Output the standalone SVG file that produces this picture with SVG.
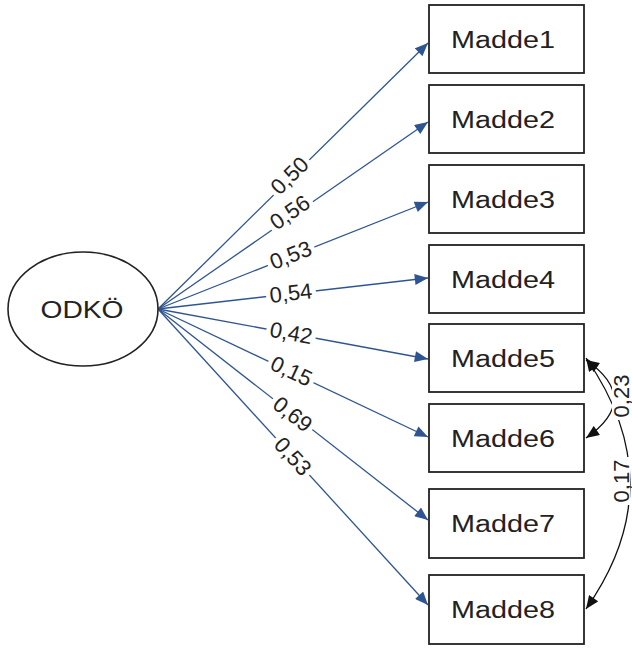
<svg xmlns="http://www.w3.org/2000/svg" width="632" height="648" viewBox="0 0 632 648">
<style>
.box{fill:#fff;stroke:#222;stroke-width:1.8}
.nt{font-family:"Liberation Sans",Arial,sans-serif;font-size:23px;fill:#222;text-anchor:middle}
.path{stroke:#2E5591;stroke-width:1.3;fill:none;marker-end:url(#ab)}
.cov{stroke:#111;stroke-width:1.3;fill:none;marker-start:url(#kb);marker-end:url(#ke)}
.lb{font-family:"Liberation Sans",Arial,sans-serif;font-size:22px;fill:#222;text-anchor:middle;dominant-baseline:central}
.bg{fill:#fff}
</style>
<defs>
<marker id="ab" viewBox="0 0 12 10" refX="12" refY="5" markerWidth="14" markerHeight="11" markerUnits="userSpaceOnUse" orient="auto"><path d="M0,0 L12,5 L0,10 Z" fill="#2E5591"/></marker>
<marker id="ke" viewBox="0 0 12 10" refX="12" refY="5" markerWidth="14" markerHeight="11" markerUnits="userSpaceOnUse" orient="auto"><path d="M0,0 L12,5 L0,10 Z" fill="#111"/></marker>
<marker id="kb" viewBox="0 0 12 10" refX="0" refY="5" markerWidth="14" markerHeight="11" markerUnits="userSpaceOnUse" orient="auto"><path d="M12,0 L0,5 L12,10 Z" fill="#111"/></marker>
</defs>
<g id="connectors">
<line class="path" x1="158" y1="309" x2="428" y2="43"/>
<line class="path" x1="158" y1="309" x2="428" y2="122"/>
<line class="path" x1="158" y1="309" x2="428" y2="202"/>
<line class="path" x1="158" y1="309" x2="428" y2="278"/>
<line class="path" x1="158" y1="309" x2="428" y2="359"/>
<line class="path" x1="158" y1="309" x2="428" y2="437"/>
<line class="path" x1="158" y1="309" x2="428" y2="520"/>
<line class="path" x1="158" y1="309" x2="428" y2="605"/>
<path class="cov" d="M586,360 Q642,399 586,438"/>
<path class="cov" d="M586,358 Q674,484 586,609"/>
<g transform="translate(291,177) rotate(-44.57)"><rect class="bg" x="-25" y="-9" width="50" height="18"/><text class="lb" y="-2">0,50</text></g>
<g transform="translate(291,214) rotate(-34.71)"><rect class="bg" x="-25" y="-9" width="50" height="18"/><text class="lb" y="-2">0,56</text></g>
<g transform="translate(291,256) rotate(-21.62)"><rect class="bg" x="-25" y="-9" width="50" height="18"/><text class="lb" y="-1">0,53</text></g>
<g transform="translate(291,294) rotate(-6.55)"><rect class="bg" x="-25" y="-9" width="50" height="18"/><text class="lb" y="-1">0,54</text></g>
<g transform="translate(291,334) rotate(10.49)"><rect class="bg" x="-25" y="-9" width="50" height="18"/><text class="lb" y="-1">0,42</text></g>
<g transform="translate(291,372) rotate(25.37)"><rect class="bg" x="-25" y="-9" width="50" height="18"/><text class="lb" y="-1">0,15</text></g>
<g transform="translate(292,415) rotate(38.00)"><rect class="bg" x="-25" y="-9" width="50" height="18"/><text class="lb" y="-1">0,69</text></g>
<g transform="translate(292,457) rotate(47.63)"><rect class="bg" x="-25" y="-9" width="50" height="18"/><text class="lb" y="-1">0,53</text></g>
<g transform="translate(621,396) rotate(-90)"><rect class="bg" x="-24" y="-9" width="48" height="18"/><text class="lb">0,23</text></g>
<g transform="translate(621,481) rotate(-90)"><rect class="bg" x="-24" y="-9" width="48" height="18"/><text class="lb">0,17</text></g>
</g>
<g id="ODKO"><ellipse cx="83" cy="309" rx="75" ry="57" fill="#fff" stroke="#222" stroke-width="1.6"/><text class="nt" x="82" y="318" textLength="83" lengthAdjust="spacingAndGlyphs">ODKÖ</text></g>
<g id="Madde1"><rect class="box" x="429" y="5" width="155" height="68"/><text class="nt" x="503" y="48" textLength="104" lengthAdjust="spacingAndGlyphs">Madde1</text></g>
<g id="Madde2"><rect class="box" x="429" y="85" width="155" height="68"/><text class="nt" x="503" y="128" textLength="104" lengthAdjust="spacingAndGlyphs">Madde2</text></g>
<g id="Madde3"><rect class="box" x="429" y="165" width="155" height="68"/><text class="nt" x="503" y="208" textLength="104" lengthAdjust="spacingAndGlyphs">Madde3</text></g>
<g id="Madde4"><rect class="box" x="429" y="245" width="155" height="68"/><text class="nt" x="503" y="288" textLength="104" lengthAdjust="spacingAndGlyphs">Madde4</text></g>
<g id="Madde5"><rect class="box" x="429" y="324" width="155" height="68"/><text class="nt" x="503" y="367" textLength="104" lengthAdjust="spacingAndGlyphs">Madde5</text></g>
<g id="Madde6"><rect class="box" x="429" y="404" width="155" height="68"/><text class="nt" x="503" y="447" textLength="104" lengthAdjust="spacingAndGlyphs">Madde6</text></g>
<g id="Madde7"><rect class="box" x="429" y="489" width="155" height="69"/><text class="nt" x="503" y="532" textLength="104" lengthAdjust="spacingAndGlyphs">Madde7</text></g>
<g id="Madde8"><rect class="box" x="429" y="575" width="155" height="69"/><text class="nt" x="503" y="618" textLength="104" lengthAdjust="spacingAndGlyphs">Madde8</text></g>
</svg>
